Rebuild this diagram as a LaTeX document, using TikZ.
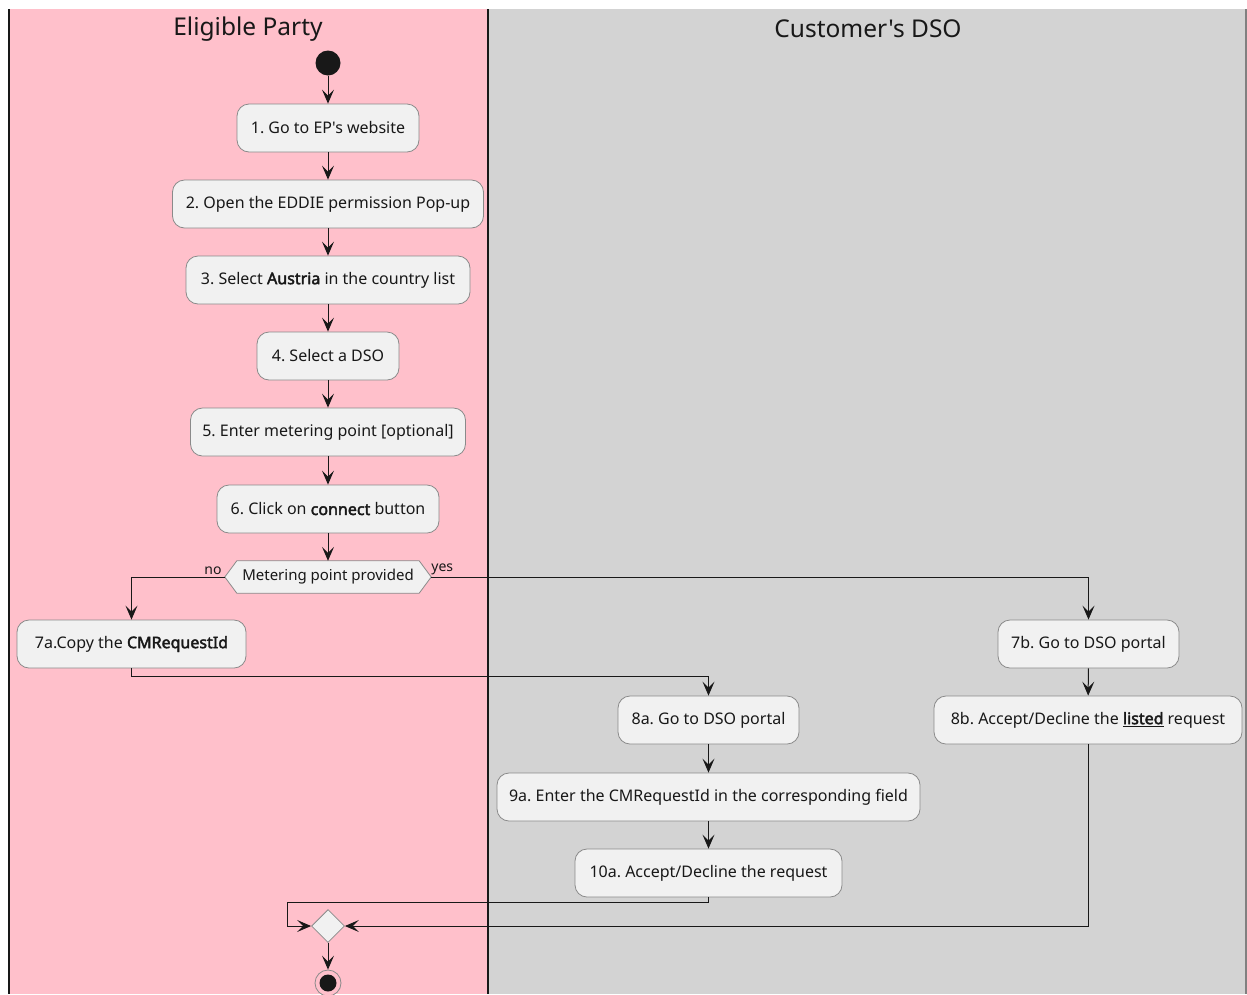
\documentclass[tikz,border=0pt]{standalone}
\usepackage{fontspec}
\setmainfont{Noto Sans}[Ligatures=TeXOff, AutoFakeBold=2.5]
\usetikzlibrary{arrows.meta,shapes.geometric}
\definecolor{lanepink}{HTML}{FFC0CB}
\definecolor{lanegray}{HTML}{D3D3D3}
\definecolor{boxfill}{HTML}{F1F1F1}
\definecolor{boxline}{HTML}{8A8A8A}
\definecolor{ink}{HTML}{181818}
\tikzset{
  stepbox/.style={draw=boxline, fill=boxfill, rounded corners=12pt, line width=0.8pt,
    minimum height=48pt, inner sep=0pt, font=\fontsize{16}{19}\selectfont, text=ink},
  flow/.style={draw=ink, line width=1pt, -{Stealth[length=14pt,width=12pt,inset=6pt]}},
  lanetitle/.style={font=\fontsize{24.5}{28}\selectfont, text=ink},
  guard/.style={font=\fontsize{14}{16}\selectfont, text=ink, inner sep=1pt}
}
\begin{document}
\frenchspacing
\begin{tikzpicture}[x=1pt,y=-1pt]
  \useasboundingbox (0,0) rectangle (1247,994);
  \fill[white] (0,0) rectangle (1247,994);
  % swimlanes
  \fill[lanepink] (9,9) rectangle (488,994);
  \fill[lanegray] (488,9) rectangle (1246,994);
  \draw[ink, line width=1.6pt] (9,9) -- (9,994);
  \draw[ink, line width=1.6pt] (488,9) -- (488,994);
  \draw[gray, line width=1.2pt] (1246,9) -- (1246,994);
  \node[lanetitle] (t1) at (248,29) {Eligible Party};
  \node[lanetitle] (t2) at (868,29) {Customer's DSO};

  % start
  \node[circle, fill=ink, minimum size=25pt, inner sep=0pt] (start) at (328,63) {};

  % eligible party steps
  \node[stepbox, minimum width=182pt] (n1) at (328,128) {1. Go to EP's website};
  \node[stepbox, minimum width=311pt] (n2) at (328,204) {2. Open the EDDIE permission Pop-up};
  \node[stepbox, minimum width=284pt] (n3) at (328,280) {3. Select \textbf{Austria} in the country list};
  \node[stepbox, minimum width=142pt] (n4) at (328,356) {4. Select a DSO};
  \node[stepbox, minimum width=275pt] (n5) at (328,432) {5. Enter metering point [optional]};
  \node[stepbox, minimum width=222pt] (n6) at (328,509) {6. Click on \textbf{connect} button};

  % decision
  \node[minimum width=206pt, minimum height=32pt, inner sep=0pt] (dec) at (328,577) {};
  \draw[draw=boxline, fill=boxfill, line width=0.8pt]
    (dec.west) -- ([xshift=12pt]dec.north west) -- ([xshift=-12pt]dec.north east)
    -- (dec.east) -- ([xshift=-12pt]dec.south east) -- ([xshift=12pt]dec.south west) -- cycle;
  \node[text=ink, font=\fontsize{15}{17}\selectfont] (dectext) at (dec) {Metering point provided};
  \node[guard, anchor=south east] (lno) at ([xshift=-2pt,yshift=1pt]dec.west) {no};
  \node[guard, anchor=south west] (lyes) at ([xshift=-1pt,yshift=1pt]dec.east) {yes};

  \node[stepbox, minimum width=229pt] (n7a) at (131.5,644) {7a.Copy the \textbf{CMRequestId}};
  \node[stepbox, minimum width=181pt] (n7b) at (1088.5,644) {7b. Go to DSO portal};
  \node[stepbox, minimum width=181pt] (n8a) at (708.5,720) {8a. Go to DSO portal};
  \node[stepbox, minimum width=308pt] (n8b) at (1088,720) {8b. Accept/Decline the \underline{\textbf{listed}} request};
  \node[stepbox, minimum width=423pt] (n9a) at (708.5,797) {9a. Enter the CMRequestId in the corresponding field};
  \node[stepbox, minimum width=267pt] (n10a) at (708.5,873) {10a. Accept/Decline the request};

  % merge and end
  \node[diamond, draw=boxline, fill=boxfill, line width=0.8pt, minimum size=33pt, inner sep=0pt] (merge) at (328,926) {};
  \node[circle, draw=boxline, fill=lanepink, line width=0.8pt, minimum size=26pt, inner sep=0pt] (stop) at (328,983) {};
  \node[circle, fill=ink, minimum size=17pt, inner sep=0pt] (stopdot) at (stop) {};
  \coordinate (back) at (287,926);

  % connectors
  \draw[flow] (start) -- (n1);
  \draw[flow] (n1) -- (n2);
  \draw[flow] (n2) -- (n3);
  \draw[flow] (n3) -- (n4);
  \draw[flow] (n4) -- (n5);
  \draw[flow] (n5) -- (n6);
  \draw[flow] (n6) -- (dec.north);
  \draw[flow] (dec.west) -| (n7a.north);
  \draw[flow] (dec.east) -| (n7b.north);
  \draw[flow] (n7a.south) -- ++(0,8) -| (n8a.north);
  \draw[flow] (n7b) -- (n8b);
  \draw[flow] (n8a) -- (n9a);
  \draw[flow] (n9a) -- (n10a);
  \draw[flow] (n10a.south) -- ++(0,5) -| (back) -- (merge.west);
  \draw[flow] (n8b.south) |- (merge.east);
  \draw[flow] (merge.south) -- (stop.north);
\end{tikzpicture}
\end{document}
